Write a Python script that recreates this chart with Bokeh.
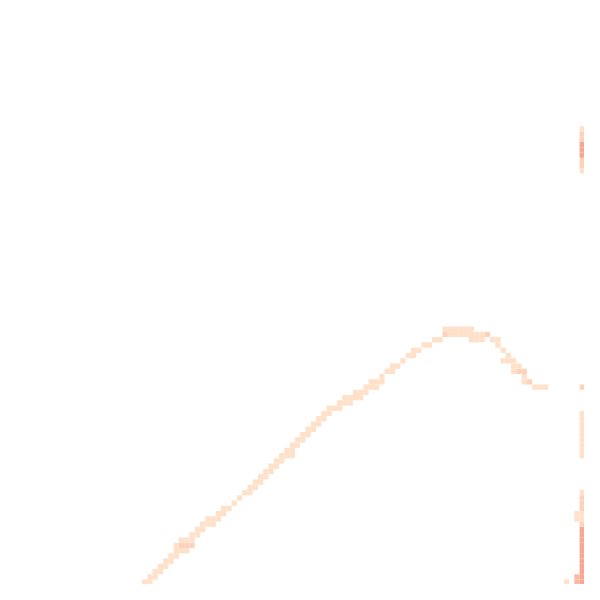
from bokeh.plotting import figure
from bokeh.models import Range1d, ColumnDataSource
from bokeh.embed import file_html
from bokeh.resources import INLINE

# Heatmap bins (column / row indices of a 2D histogram),
# given as runs: row, first column, last column, intensity level (1..4)
run_row   = [110, 110, 110, 110, 109, 109, 109, 108, 108, 107, 107, 106, 106, 105, 105,
             104, 104, 103, 103, 103, 102, 102, 101, 101, 100, 100, 99, 99, 98, 98, 97, 97,
             96, 96, 95, 95, 94, 94, 93, 93, 92, 91, 90, 89, 88, 87,
             86, 86, 85, 85, 84, 84, 83, 83, 82, 82, 81, 81, 80, 80, 79, 79, 78, 78,
             77, 76, 75, 74, 73, 73, 73, 72, 72, 72, 71, 71, 70, 70, 70, 69, 69, 68, 68,
             67, 67, 66, 66, 65, 65, 64, 64, 64, 63, 63, 63, 62,
             32, 30, 27, 25, 24]
run_c0    = [27, 107, 109, 110, 28, 109, 110, 29, 110, 30, 110, 31, 110, 32, 110,
             33, 110, 33, 34, 110, 34, 110, 36, 110, 37, 110, 38, 110, 39, 109, 41, 109,
             42, 110, 44, 110, 45, 110, 46, 110, 47, 48, 49, 50, 51, 52,
             53, 110, 54, 110, 55, 110, 56, 110, 57, 110, 58, 110, 59, 110, 60, 110, 61, 110,
             62, 64, 65, 67, 69, 101, 110, 70, 99, 100, 72, 99, 73, 97, 98, 74, 97, 76, 95,
             77, 96, 78, 95, 80, 94, 82, 89, 93, 84, 85, 92, 84,
             110, 110, 110, 110, 110]
run_c1    = [28, 107, 109, 110, 29, 109, 110, 30, 110, 31, 110, 32, 110, 33, 110,
             35, 110, 33, 36, 110, 36, 110, 37, 110, 38, 110, 40, 110, 41, 110, 42, 110,
             43, 110, 44, 110, 45, 110, 47, 110, 48, 49, 50, 51, 52, 53,
             55, 110, 55, 110, 56, 110, 57, 110, 58, 110, 59, 110, 60, 110, 61, 110, 62, 110,
             64, 66, 68, 69, 71, 103, 110, 72, 99, 100, 72, 99, 74, 97, 99, 75, 98, 76, 97,
             78, 96, 79, 95, 81, 94, 83, 91, 94, 84, 91, 92, 89,
             110, 31, 29, 26, 24]
run_level = [1, 1, 3, 4, 1, 3, 4, 1, 4, 1, 4, 1, 4, 1, 4,
             1, 4, 1, 2, 4, 1, 4, 1, 4, 1, 4, 1, 2, 1, 1, 1, 1,
             1, 2, 1, 2, 1, 2, 1, 1, 1, 1, 1, 1, 1, 1,
             1, 1, 1, 1, 1, 1, 1, 1, 1, 1, 1, 1, 1, 1, 1, 1, 1, 1,
             1, 1, 1, 1, 1, 1, 2, 1, 1, 2, 1, 1, 1, 1, 2, 1, 1, 1, 1,
             1, 1, 1, 1, 1, 1, 1, 1, 1, 2, 1, 2, 1,
             1, 2, 4, 2, 1]
level_colors = ["#FFE0C8", "#FDD2BA", "#FBB9A4", "#F8A592"]

# fix run_c0 for right-edge column runs spanning several rows
run_c0[-4] = 110
run_c1[-4] = 110
run_c0[-3] = 110
run_c1[-3] = 110
run_c0[-2] = 110
run_c1[-2] = 110
run_c0[-1] = 110
run_c1[-1] = 110

xs, ys, cs = [], [], []
for r, a, b, lv in zip(run_row, run_c0, run_c1, run_level):
    for c in range(a, b + 1):
        xs.append(c + 0.5)
        ys.append(r + 0.5)
        cs.append(level_colors[lv - 1])
# multi-row runs at the right edge (rows 30-31, 27-29, 25-26)
extra_rows = [31, 28, 29, 26]
extra_levels = [2, 4, 4, 2]
for r, lv in zip(extra_rows, extra_levels):
    xs.append(110.5)
    ys.append(r + 0.5)
    cs.append(level_colors[lv - 1])

src = ColumnDataSource(dict(x=xs, y=ys, color=cs))

p = figure(width=584, height=584, output_backend="svg", toolbar_location=None,
           x_range=Range1d(0.166, 110.93), y_range=Range1d(110.93, 0.166),
           min_border=0)
p.rect(x="x", y="y", width=1, height=1, source=src,
       fill_color="color", line_color=None)
p.axis.visible = False
p.grid.visible = False
p.outline_line_color = None
p.background_fill_color = "white"
p.border_fill_color = "white"

open("out.html", "w").write(file_html(p, INLINE))
